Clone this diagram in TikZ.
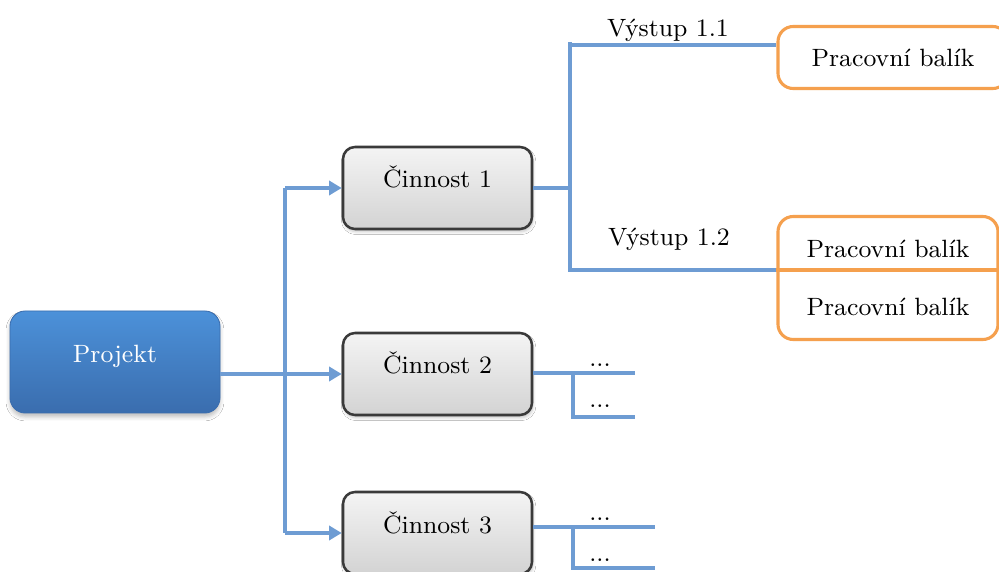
\documentclass[tikz,border=0pt]{standalone}
\usetikzlibrary{positioning, calc, arrows.meta, shadows.blur}

% one pixel of the reference
\newcommand{\pxu}{0.0125cm}

\begin{document}
\begin{tikzpicture}[
  x=\pxu, y=-\pxu,
  font=\fontsize{8.9}{10.7}\selectfont,
  >={Triangle[length=4.5pt,width=5pt]},
  link/.style={draw=cLink, line width=1.4pt},
  projbox/.style={rounded corners=0.19cm, top color=cProjTop,
    bottom color=cProjBot, draw=cProjBot, line width=0.3pt,
    minimum width={210*\pxu}, minimum height={102*\pxu},
    text=white, text height=0.8em, text depth=0.8em,
    blur shadow={shadow xshift=0pt, shadow yshift=-1.4pt,
      shadow blur radius=1.4pt, shadow opacity=25}},
  stepbox/.style={rounded corners=0.15cm, top color=cStepTop,
    bottom color=cStepBot, draw=cStepLine, line width=0.9pt,
    minimum width={189*\pxu}, minimum height={82*\pxu},
    text height=0.8em, text depth=0.8em,
    blur shadow={shadow xshift=0.4pt, shadow yshift=-1pt,
      shadow blur radius=1pt, shadow opacity=22}},
  workbox/.style={rounded corners=0.19cm, draw=cWork, fill=white,
    line width=1.1pt, minimum height={62*\pxu}},
]
\definecolor{cLink}{HTML}{6E9CD3}
\definecolor{cWork}{HTML}{F5A04E}
\definecolor{cProjTop}{HTML}{4C91D9}
\definecolor{cProjBot}{HTML}{3A6DAE}
\definecolor{cStepTop}{HTML}{F4F4F4}
\definecolor{cStepBot}{HTML}{D3D3D3}
\definecolor{cStepLine}{HTML}{3A3A3A}

\useasboundingbox (0,0) rectangle (999,572);
\fill[white] (0,0) rectangle (999,572);

% ============================================================================
% project and its three activities
% ============================================================================
\node[projbox] (proj) at (115,362) {Projekt};

\node[stepbox] (c1) at (437.5,188) {Činnost 1};
\node[stepbox] (c2) at (437.5,374) {Činnost 2};
\node[stepbox] (c3) at (437.5,533) {Činnost 3};

\coordinate (trunk) at (285,375);
\draw[link] (trunk |- c1.west) -- (trunk |- c3.west);
\draw[link, ->] (proj.east |- c2.west) -- (c2.west);
\draw[link, ->] (trunk |- c1.west) -- (c1.west);
\draw[link, ->] (trunk |- c3.west) -- (c3.west);

% ============================================================================
% outputs of activity 1 -> work packages
% ============================================================================
\node[workbox, minimum width={230*\pxu}] (wp1) at (893,57.5) {Pracovní balík};
\node[workbox, minimum height={123*\pxu}, minimum width={220*\pxu},
      align=center] (wp2) at (888,278)
      {Pracovní balík\\[10pt]Pracovní balík};

\coordinate (o11) at (570,45);
\coordinate (o12) at (570,270);
\draw[cWork, line width=1.1pt] (o12 -| wp2.west) -- (o12 -| wp2.east);
\draw[link] (c1.east) -- (c1.east -| o11);
\draw[link] ([yshift=1pt]o11) -- (o12) -- (o12 -| wp2.west);
\draw[link] (o11) -- (o11 -| wp1.west);

\node (v11) at (668,30) {Výstup 1.1};
\node (v12) at (669,239) {Výstup 1.2};

% ============================================================================
% outputs of activities 2 and 3 (not expanded)
% ============================================================================
\coordinate (d2a) at (573,373);
\coordinate (d2b) at (573,417);
\coordinate (e2a) at (635,373);
\coordinate (e2b) at (635,417);
\draw[link] (c2.east |- d2a) -- (e2a);
\draw[link] (d2a) -- (d2b) -- (e2b);
\node[anchor=base] (n2a) at (600,366) {...};
\node[anchor=base] (n2b) at (600,408) {...};

\coordinate (d3a) at (573,527);
\coordinate (d3b) at (573,568);
\coordinate (e3a) at (655,527);
\coordinate (e3b) at (655,568);
\draw[link] (c3.east |- d3a) -- (e3a);
\draw[link] (d3a) -- (d3b) -- (e3b);
\node[anchor=base] (n3a) at (600,520) {...};
\node[anchor=base] (n3b) at (600,561) {...};

\end{tikzpicture}
\end{document}
